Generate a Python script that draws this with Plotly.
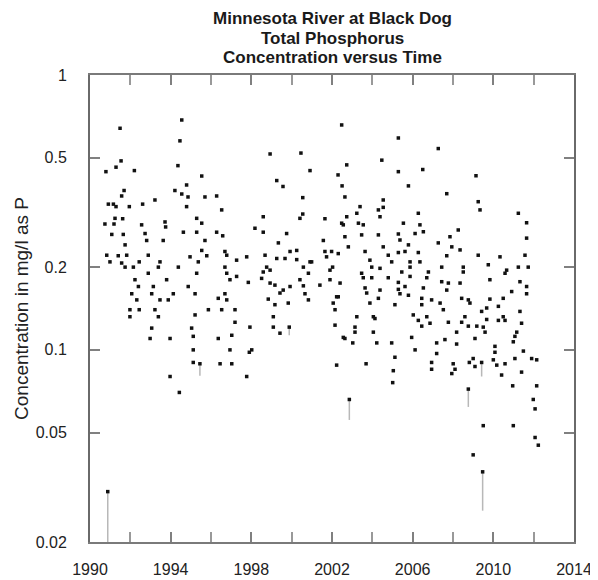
import plotly.graph_objects as go

# Sample dates (decimal years) and total phosphorus concentrations (mg/l as P)
years = [
    1994.55,1991.49,1994.46,2002.48,1998.93,2000.46,1991.54,1991.29,1990.79,1992.20,
    1994.36,2000.91,2002.30,2002.73,1995.54,1999.26,1999.57,1994.79,1994.21,1994.55,
    1994.86,1991.69,1991.57,1995.70,1996.28,1993.22,1994.79,2002.50,2002.64,2000.55,
    1990.91,1991.16,1991.29,1991.95,1992.61,1996.53,1998.59,2000.55,2000.41,2001.65,
    2002.73,1991.24,1991.62,1990.74,1991.19,1992.56,1993.72,1993.75,1995.29,1995.54,
    2002.48,1998.18,1998.59,1999.75,2001.57,2002.64,1991.08,1991.65,1992.73,1994.63,
    1995.29,1996.28,1996.58,1991.74,1992.81,1993.63,1995.70,1999.34,1995.54,1996.69,
    2001.65,2000.25,1990.83,1991.40,1991.82,1992.89,1994.96,1995.79,1996.78,1997.27,
    1997.77,1998.68,1999.26,1999.67,1999.92,2000.25,2000.99,2001.73,2002.31,1990.99,
    1991.57,1992.44,1993.47,1995.37,1991.74,1992.15,1993.39,1994.38,1996.69,1998.76,
    2000.58,2000.91,1998.59,1998.93,2000.83,2001.90,1992.89,1995.29,1996.78,1992.23,
    1993.80,1996.94,1997.27,1997.85,1998.51,1998.93,2000.41,2001.90,1992.40,1993.14,
    1994.87,1999.17,1999.58,1999.92,2000.58,2001.40,1992.07,1993.06,1994.13,1995.21,
    1996.69,1999.42,2000.66,2002.31,1992.32,1993.47,1993.88,1996.36,1996.78,1998.84,
    1999.17,2000.83,2002.06,1991.98,1992.44,1993.22,1995.21,1995.87,1996.53,1997.19,
    1999.83,2002.15,1991.98,1993.39,1999.09,
    1997.19,1993.06,1995.04,1997.93,1999.09,1999.42,2002.15,2002.64,1992.98,1993.97,
    1995.12,1996.36,1997.03,1995.12,1996.94,1998.02,1997.90,1995.12,1996.45,1997.03,
    2002.23,1993.97,1997.77,1994.43,
    2005.29,2007.27,2004.47,2005.29,2006.50,2009.14,2005.79,2007.69,2004.54,2003.39,
    2004.54,2009.25,2009.34,2003.23,2004.30,2004.38,2006.28,2011.24,2002.56,2003.31,
    2003.55,2005.54,2006.36,2011.65,2003.47,2004.30,2005.29,2006.12,2006.53,2008.26,
    2007.85,2011.65,2005.37,2007.27,2005.79,2002.81,2007.94,2008.35,2001.98,2003.64,
    2004.54,2004.79,2005.29,2005.62,2006.28,2007.69,2009.25,2010.33,2011.57,2003.88,
    2004.96,2005.87,2006.36,2002.03,2003.97,2004.38,2005.87,2007.44,2008.51,2009.75,
    2010.66,2011.24,2011.73,2003.47,2005.46,2006.78,2008.51,2010.58,2002.40,2003.55,
    2003.97,2004.79,2005.29,2005.87,2006.70,2007.44,2007.77,2008.35,2009.83,2011.32,
    2003.64,2004.38,2005.29,2005.62,2006.53,2007.69,2011.65,2002.23,2003.72,2004.30,
    2005.37,2005.79,2006.45,2006.94,2008.43,2008.76,2009.83,2010.49,2010.91,2011.65,
    2003.88,2005.12,2006.45,2007.36,2008.84,2009.67,2010.25,2003.23,2004.05,2006.03,
    2006.70,2007.52,2008.59,2009.42,2010.49,2011.32,
    2004.13,2007.77,2009.67,2010.25,2003.14,2006.28,2006.45,2006.86,2008.43,2008.76,
    2009.18,2009.59,2010.58,2011.40,2003.14,2004.05,2005.95,2008.18,2009.50,2011.16,
    2011.07,2009.09,2002.56,2003.03,2004.22,2004.96,2006.12,2007.19,2007.60,2008.18,
    2010.99,2010.08,2010.08,2011.49,2007.19,2003.69,2005.12,2006.94,2006.94,2008.01,
    2008.10,2008.81,2009.00,2009.09,2010.00,2010.17,2010.41,2010.58,2011.07,2011.90,
    2012.15,2005.04,2007.94,2011.40,2005.01,2010.96,2012.15,2011.98,2012.07,2009.50,
    2010.99,2012.07,2012.23,2009.00,
]
tp = [
    0.686,0.64,0.576,0.658,0.516,0.52,0.487,0.462,0.445,0.449,
    0.468,0.449,0.433,0.471,0.429,0.413,0.393,0.398,0.38,0.369,
    0.36,0.38,0.363,0.36,0.363,0.351,0.332,0.395,0.36,0.358,
    0.339,0.339,0.332,0.332,0.339,0.323,0.305,0.312,0.301,0.30,
    0.305,0.301,0.30,0.287,0.287,0.285,0.292,0.28,0.301,0.289,
    0.289,0.277,0.268,0.265,0.25,0.258,0.263,0.263,0.265,0.268,
    0.268,0.268,0.26,0.241,0.25,0.25,0.25,0.245,0.23,0.228,
    0.228,0.23,0.221,0.22,0.221,0.221,0.218,0.22,0.221,0.212,
    0.218,0.221,0.215,0.215,0.228,0.213,0.209,0.218,0.224,0.209,
    0.207,0.209,0.209,0.209,0.20,0.20,0.20,0.20,0.20,0.20,
    0.20,0.209,0.192,0.195,0.19,0.195,0.19,0.19,0.19,0.18,
    0.18,0.18,0.185,0.176,0.182,0.175,0.18,0.18,0.17,0.17,
    0.17,0.172,0.165,0.17,0.171,0.172,0.16,0.16,0.16,0.16,
    0.16,0.161,0.16,0.156,0.152,0.152,0.152,0.154,0.152,0.153,
    0.146,0.152,0.148,0.14,0.14,0.14,0.134,0.14,0.14,0.14,
    0.148,0.14,0.132,0.132,0.132,
    0.126,0.12,0.12,0.121,0.121,0.115,0.123,0.11,0.11,0.11,
    0.112,0.11,0.113,0.10,0.10,0.10,0.098,0.09,0.089,0.089,
    0.088,0.08,0.08,0.07,
    0.59,0.54,0.49,0.445,0.453,0.43,0.395,0.37,0.351,0.332,
    0.33,0.346,0.323,0.314,0.323,0.305,0.314,0.314,0.285,0.289,
    0.285,0.289,0.285,0.29,0.262,0.262,0.264,0.265,0.269,0.273,
    0.258,0.255,0.251,0.245,0.241,0.237,0.237,0.231,0.228,0.228,
    0.237,0.221,0.226,0.228,0.226,0.22,0.221,0.218,0.221,0.212,
    0.209,0.209,0.209,0.20,0.20,0.198,0.20,0.20,0.20,0.204,
    0.195,0.20,0.20,0.19,0.192,0.192,0.192,0.19,0.175,0.183,
    0.183,0.183,0.176,0.185,0.183,0.177,0.175,0.175,0.18,0.177,
    0.168,0.165,0.166,0.17,0.168,0.165,0.17,0.156,0.161,0.154,
    0.16,0.158,0.154,0.152,0.154,0.152,0.153,0.154,0.163,0.16,
    0.148,0.146,0.146,0.148,0.148,0.142,0.144,0.132,0.132,0.134,
    0.132,0.14,0.132,0.138,0.132,0.138,
    0.13,0.126,0.129,0.128,0.121,0.128,0.122,0.125,0.126,0.122,
    0.122,0.116,0.128,0.125,0.116,0.116,0.111,0.116,0.121,0.116,
    0.112,0.11,0.111,0.106,0.106,0.106,0.10,0.106,0.109,0.105,
    0.107,0.103,0.098,0.099,0.097,0.089,0.094,0.09,0.085,0.089,
    0.085,0.09,0.093,0.087,0.092,0.088,0.081,0.089,0.093,0.093,
    0.092,0.084,0.082,0.083,0.076,0.074,0.074,0.066,0.061,0.053,
    0.053,0.048,0.045,0.0415,
]

# Samples drawn with a vertical bar below the value
cens_years = [1990.88, 1995.45, 1999.88, 2002.86, 2008.76, 2009.42, 2009.47]
cens_hi = [0.0305, 0.089, 0.121, 0.066, 0.072, 0.09, 0.036]
cens_lo = [0.02, 0.0805, 0.113, 0.0556, 0.062, 0.08, 0.026]

title_lines = ["Minnesota River at Black Dog", "Total Phosphorus", "Concentration versus Time"]
y_tickvals = [0.02, 0.05, 0.1, 0.2, 0.5, 1]
y_ticktext = ["0.02", "0.05", "0.1", "0.2", "0.5", "1"]
x_tickvals = [1990, 1994, 1998, 2002, 2006, 2010, 2014]

FONT = "Liberation Sans, Arial, sans-serif"
# the page body adds an 8px margin, so the figure is sized to fill the rest of the window
W, H = 590, 572
ML, MR, MT, MB = 82, 24, 67, 38

seg_x, seg_y = [], []
for xv, hi, lo in zip(cens_years, cens_hi, cens_lo):
    seg_x += [xv, xv, None]
    seg_y += [hi, lo, None]

fig = go.Figure()
fig.add_trace(go.Scatter(x=seg_x, y=seg_y, mode="lines",
                         line=dict(color="#b8b8b8", width=1.5),
                         hoverinfo="skip", showlegend=False))
fig.add_trace(go.Scatter(x=years + cens_years, y=tp + cens_hi, mode="markers",
                         marker=dict(symbol="square", size=3.5, color="#111111",
                                     line=dict(width=0)),
                         showlegend=False))

plot_h = H - MT - MB
title_centers_px = [10.5, 30.5, 50]
annotations = []
for line, cy in zip(title_lines, title_centers_px):
    annotations.append(dict(
        text="<b>%s</b>" % line, xref="paper", yref="paper",
        x=0.5, y=1 + (MT - cy) / plot_h, xanchor="center", yanchor="middle",
        showarrow=False, font=dict(family=FONT, size=17, color="#1a1a1a")))

fig.update_layout(
    width=W, height=H,
    margin=dict(l=ML, r=MR, t=MT, b=MB),
    paper_bgcolor="white", plot_bgcolor="white",
    font=dict(family=FONT, size=16, color="#222222"),
    annotations=annotations,
)
fig.update_xaxes(
    range=[1990, 2014], tickvals=x_tickvals, ticktext=[str(v) for v in x_tickvals],
    ticks="inside", ticklen=10, tickwidth=1.5, tickcolor="#808080",
    minor=dict(dtick=2, tick0=1990, ticks="inside", ticklen=10, tickwidth=1.5, tickcolor="#999999"),
    showline=True, linecolor="#7a7a7a", linewidth=2, mirror="ticks",
    showgrid=False, zeroline=False, ticklabelstandoff=12, automargin=False,
    tickfont=dict(family=FONT, size=16, color="#222222"),
)
fig.update_yaxes(
    type="log", range=[-1.69897, 0], tickvals=y_tickvals, ticktext=y_ticktext,
    ticks="inside", ticklen=10, tickwidth=1.5, tickcolor="#808080",
    showline=True, linecolor="#6a6a6a", linewidth=2, mirror="ticks",
    showgrid=False, zeroline=False, ticklabelstandoff=18, automargin=False,
    title=dict(text="Concentration in mg/l as P", standoff=2,
               font=dict(family=FONT, size=19, color="#222222")),
    tickfont=dict(family=FONT, size=16, color="#222222"),
)

fig.write_html("out.html")
